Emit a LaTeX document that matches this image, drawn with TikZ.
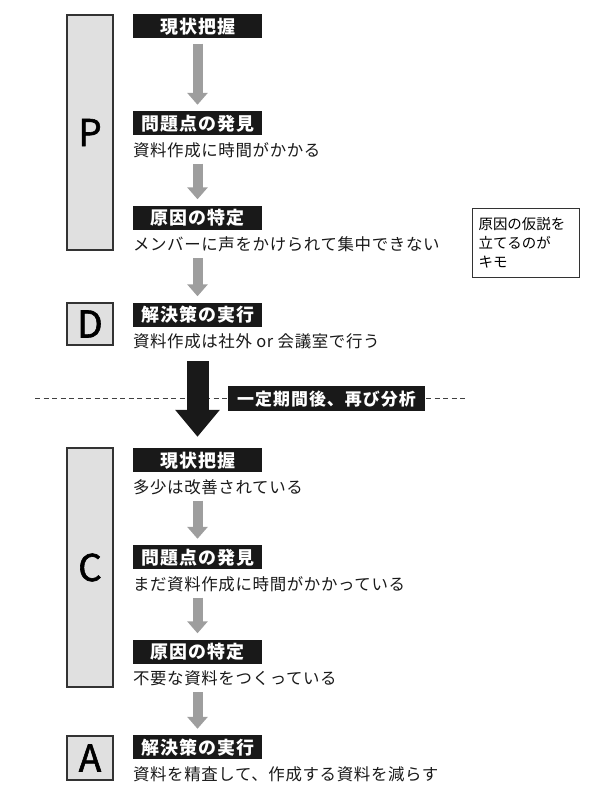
\documentclass[tikz,border=0pt]{standalone}
\usepackage{fontspec}
\setmainfont{Noto Sans CJK JP}
\newfontfamily\tagfont{Noto Sans CJK JP}[LetterSpace=6]
\newfontfamily\txtfont{Noto Sans CJK JP}[LetterSpace=4]
\newfontfamily\bigfont{Noto Sans CJK JP}[FakeBold=1.6]
\usepackage{tikz}
\usetikzlibrary{arrows.meta,positioning}

\begin{document}
\begin{tikzpicture}[
            x=1bp,y=-1bp,
            node distance=7bp,
            frame/.style={draw=black!80,line width=2bp,fill=black!12,minimum width=46bp,inner sep=0pt,font=\bigfont\fontsize{37}{37}\selectfont},
            tag/.style={fill=black!90,text=white,minimum width=129bp,minimum height=24bp,inner sep=0pt,text height=16bp,text depth=2bp,font=\tagfont\bfseries\fontsize{18}{18}\selectfont},
            txt/.style={inner sep=0pt,text=black!90,text height=14bp,text depth=2bp,font=\txtfont\fontsize{16.5}{16.5}\selectfont},
            note/.style={draw=black!80,line width=1.2bp,fill=white,align=left,text width=95bp,inner sep=6bp,minimum height=69bp,font=\fontsize{14.5}{19}\selectfont},
            flow/.style={draw=black!38,line width=10bp,-{Triangle[width=20bp,length=12bp]},shorten <=5bp,shorten >=6bp},
            bigflow/.style={draw=black!90,line width=22bp,-{Triangle[width=43bp,length=27bp]},shorten <=11bp,shorten >=11bp}
          ]
          \useasboundingbox (0,0) rectangle (591,793);
          % dashed line behind the cycle label
          \coordinate (dl) at (35,398.5);
          \coordinate (dr) at (468,398.5);
          \draw[black!75,line width=0.8bp,dash pattern=on 5bp off 3.5bp] (dl) -- (dr);

          \node[frame,minimum height=235bp] (P) at (90,132.5) {P};
          \node[frame,minimum height=42bp] (D) at (90,324) {D};
          \node[frame,minimum height=239bp] (C) at (90,567.5) {C};
          \node[frame,minimum height=44bp] (A) at (90,758) {A};

          \node[tag] (P1) at (197.5,26.5) {現状把握};
          \node[tag] (P2) at (197.5,123) {問題点の発見};
          \node[txt,below=7bp of P2.south west,anchor=north west] (P2t) {資料作成に時間がかかる};
          \node[tag] (P3) at (197.5,217.5) {原因の特定};
          \node[txt,below=7bp of P3.south west,anchor=north west] (P3t) {メンバーに声をかけられて集中できない};
          \node[note,anchor=north west] (N) at (472,208) {原因の仮説を\\立てるのが\\キモ};

          \node[tag] (D1) at (197.5,314.5) {解決策の実行};
          \node[txt,below=7bp of D1.south west,anchor=north west] (D1t) {資料作成は社外 or 会議室で行う};

          \node[tag] (C1) at (197.5,460) {現状把握};
          \node[txt,below=7bp of C1.south west,anchor=north west] (C1t) {多少は改善されている};
          \node[tag] (C2) at (197.5,557) {問題点の発見};
          \node[txt,below=7bp of C2.south west,anchor=north west] (C2t) {まだ資料作成に時間がかかっている};
          \node[tag] (C3) at (197.5,651.5) {原因の特定};
          \node[txt,below=7bp of C3.south west,anchor=north west] (C3t) {不要な資料をつくっている};

          \node[tag] (A1) at (197.5,747) {解決策の実行};
          \node[txt,below=7bp of A1.south west,anchor=north west] (A1t) {資料を精査して、作成する資料を減らす};

          \draw[flow] (P1) -- (P2);
          \draw[flow] (P2.south |- P2t.south) -- (P3);
          \draw[flow] (P3.south |- P3t.south) -- (D1);
          \draw[flow] (C1.south |- C1t.south) -- (C2);
          \draw[flow] (C2.south |- C2t.south) -- (C3);
          \draw[flow] (C3.south |- C3t.south) -- (A1);

          \draw[bigflow] (D1.south |- D1t.south) -- (C1);
          \node[tag,minimum width=197bp,minimum height=25bp,font=\tagfont\bfseries\fontsize{17}{17}\selectfont] (cyc) at (326.5,398.5) {一定期間後、再び分析};
        \end{tikzpicture}
\end{document}
